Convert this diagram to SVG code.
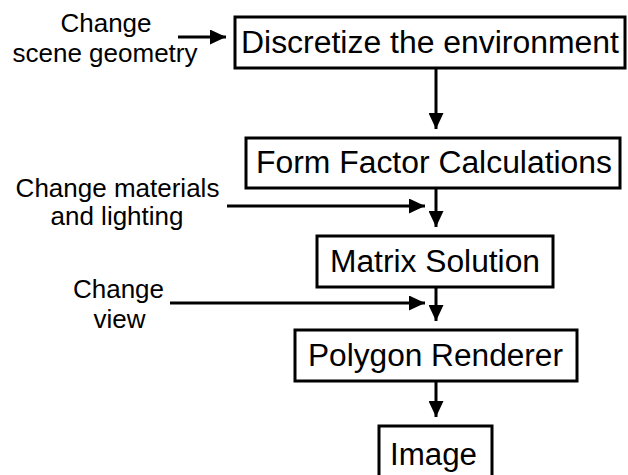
<svg xmlns="http://www.w3.org/2000/svg" width="628" height="475" viewBox="0 0 628 475">
<style>
.box{fill:#fff;stroke:#000;stroke-width:3}
.bt{font-family:"Liberation Sans",Arial,sans-serif;font-size:31px;fill:#000;text-anchor:middle}
.lb{font-family:"Liberation Sans",Arial,sans-serif;font-size:26px;fill:#000;text-anchor:middle}
.cn{stroke:#000;stroke-width:3;fill:none}
</style>
<defs>
<marker id="ah" markerUnits="userSpaceOnUse" markerWidth="16" markerHeight="15" refX="16" refY="7.5" orient="auto" viewBox="0 0 16 15">
<path d="M0,0 L16,7.5 L0,15 z" fill="#000"/>
</marker>
</defs>
<rect width="628" height="475" fill="#fff"/>
<g id="n1">
<rect class="box" x="235" y="17" width="390" height="51"/>
<text class="bt" x="430" y="53" textLength="378" lengthAdjust="spacingAndGlyphs">Discretize the environment</text>
</g>
<g id="n2">
<rect class="box" x="246" y="138" width="374" height="50"/>
<text class="bt" x="434" y="173" textLength="356" lengthAdjust="spacingAndGlyphs">Form Factor Calculations</text>
</g>
<g id="n3">
<rect class="box" x="317" y="236" width="236" height="51"/>
<text class="bt" x="435" y="272" textLength="210" lengthAdjust="spacingAndGlyphs">Matrix Solution</text>
</g>
<g id="n4">
<rect class="box" x="295" y="330" width="282" height="51"/>
<text class="bt" x="435.5" y="366" textLength="255" lengthAdjust="spacingAndGlyphs">Polygon Renderer</text>
</g>
<g id="n5">
<rect class="box" x="379" y="426" width="113" height="70"/>
<text class="bt" x="433.5" y="465" textLength="87" lengthAdjust="spacingAndGlyphs">Image</text>
</g>
<g id="labels">
<text class="lb" x="106" y="32">Change</text>
<text class="lb" x="105" y="62">scene geometry</text>
<text class="lb" x="117.5" y="197">Change materials</text>
<text class="lb" x="117" y="225">and lighting</text>
<text class="lb" x="118.5" y="298">Change</text>
<text class="lb" x="119.5" y="328">view</text>
</g>
<g id="connectors">
<line class="cn" x1="178" y1="37" x2="226" y2="37" marker-end="url(#ah)"/>
<line class="cn" x1="436" y1="68" x2="436" y2="129" marker-end="url(#ah)"/>
<line class="cn" x1="436" y1="188" x2="436" y2="227" marker-end="url(#ah)"/>
<line class="cn" x1="227" y1="206" x2="425" y2="206" marker-end="url(#ah)"/>
<line class="cn" x1="436" y1="287" x2="436" y2="321" marker-end="url(#ah)"/>
<line class="cn" x1="170" y1="303" x2="425" y2="303" marker-end="url(#ah)"/>
<line class="cn" x1="436" y1="381" x2="436" y2="417" marker-end="url(#ah)"/>
</g>
</svg>
